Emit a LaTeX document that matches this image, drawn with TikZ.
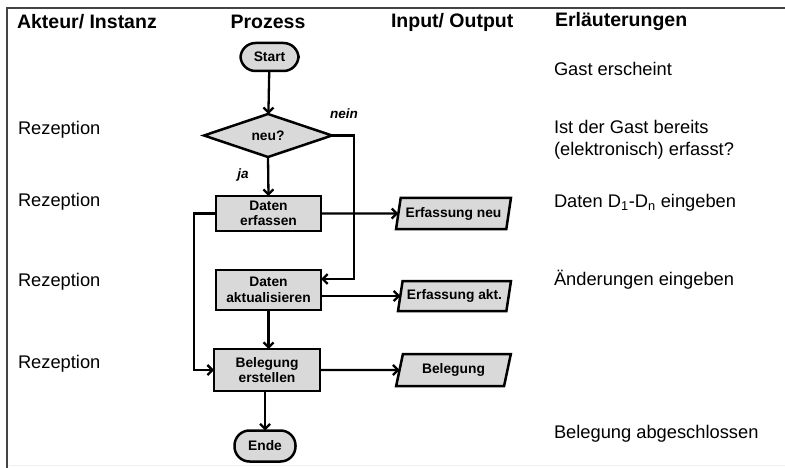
\documentclass[tikz,border=0pt]{standalone}
\usepackage{fontspec}
\setmainfont{Liberation Sans}
\usetikzlibrary{shapes.geometric,arrows.meta}
\definecolor{boxgray}{HTML}{D9D9D9}
\definecolor{framegray}{HTML}{444444}
\begin{document}
\begin{tikzpicture}[x=1pt,y=-1pt,
  every node/.style={inner sep=0pt, outer sep=0pt},
  nodefont/.style={font=\fontsize{13.8}{15.5}\selectfont\bfseries},
  proc/.style={nodefont, draw=black, line width=2.5pt, fill=boxgray, align=center},
  term/.style={proc, rounded corners=15pt},
  decision/.style={proc, diamond},
  io/.style={proc, trapezium, trapezium left angle=72, trapezium right angle=108, trapezium stretches=true},
  head/.style={font=\fontsize{19.5}{21}\selectfont\bfseries, anchor=west},
  txt/.style={font=\fontsize{18.3}{21.8}\selectfont, anchor=west, align=left},
  lbl/.style={font=\fontsize{13.5}{15}\selectfont\bfseries\itshape},
  conn/.style={line width=2.3pt, -{Straight Barb[length=5pt,width=10pt]}},
]
\useasboundingbox (0,0) rectangle (785,468);
% frame
\draw[framegray, line width=1.6pt] (785,8) -- (7,8) -- (7,468);
\draw[gray!12, line width=1pt] (9,465) -- (785,465);

% headers
\node[head] (h1) at (17,22) {Akteur/ Instanz};
\node[head, anchor=center] (h2) at (268,22) {Prozess};
\node[head] (h3) at (391,22) {Input/ Output};
\node[head] (h4) at (555,22) {Erläuterungen};

% actors
\node[txt] (r1) at (18,130) {Rezeption};
\node[txt] (r2) at (18,202) {Rezeption};
\node[txt] (r3) at (18,282) {Rezeption};
\node[txt] (r4) at (18,364) {Rezeption};

% explanations
\node[txt] (e1) at (554,69) {Gast erscheint};
\node[txt] (e2) at (554,139.5) {Ist der Gast bereits\\(elektronisch) erfasst?};
\node[txt] (e3) at (554,203) {Daten D\textsubscript{1}-D\textsubscript{n} eingeben};
\node[txt] (e4) at (554,280) {Änderungen eingeben};
\node[txt] (e5) at (554,434) {Belegung abgeschlossen};

% process nodes
\node[term, minimum width=58pt, minimum height=28pt] (start) at (269.5,57) {Start};
\node[decision, minimum width=128pt, minimum height=43pt] (dec) at (268,135.5) {neu?};
\node[proc, minimum width=105pt, minimum height=35pt] (erf) at (268.5,213.5) {Daten\\erfassen};
\node[proc, minimum width=105pt, minimum height=40pt] (akt) at (268.5,290) {Daten\\aktualisieren};
\node[proc, minimum width=106pt, minimum height=42pt] (bel) at (267,370) {Belegung\\erstellen};
\node[term, minimum width=61pt, minimum height=31pt, rounded corners=15pt] (ende) at (265,446) {Ende};

% io nodes
\node[io, minimum width=115pt, minimum height=31pt] (neu) at (453.5,213.5) {Erfassung neu};
\node[io, minimum width=113pt, minimum height=30pt] (aktout) at (454.5,296) {Erfassung akt.};
\node[io, minimum width=115pt, minimum height=32pt] (belout) at (453.5,370) {Belegung};

% labels
\node[lbl] (nein) at (344,114) {nein};
\node[lbl] (ja) at (243,175) {ja};

% connectors
\coordinate (n1) at (354,135.5);
\coordinate (n2) at (354,279);
\coordinate (lx) at (194,213.5);
\draw[conn] (start) -- (dec);
\draw[conn] (dec.south) -- (erf.north);
\draw[conn] (dec.east) -- (n1) -- (n2) -- (akt.east |- n2);
\draw[conn] (erf.east) -- (neu.west);
\draw[conn] (akt.east |- aktout.west) -- (aktout.west);
\draw[conn] (akt.south) -- (akt.south |- bel.north);
\draw[conn] (erf.west) -- (lx) |- (bel.west);
\draw[conn] (bel.east) -- (belout.west);
\draw[conn] (bel.south -| ende.north) -- (ende.north);
\end{tikzpicture}
\end{document}
